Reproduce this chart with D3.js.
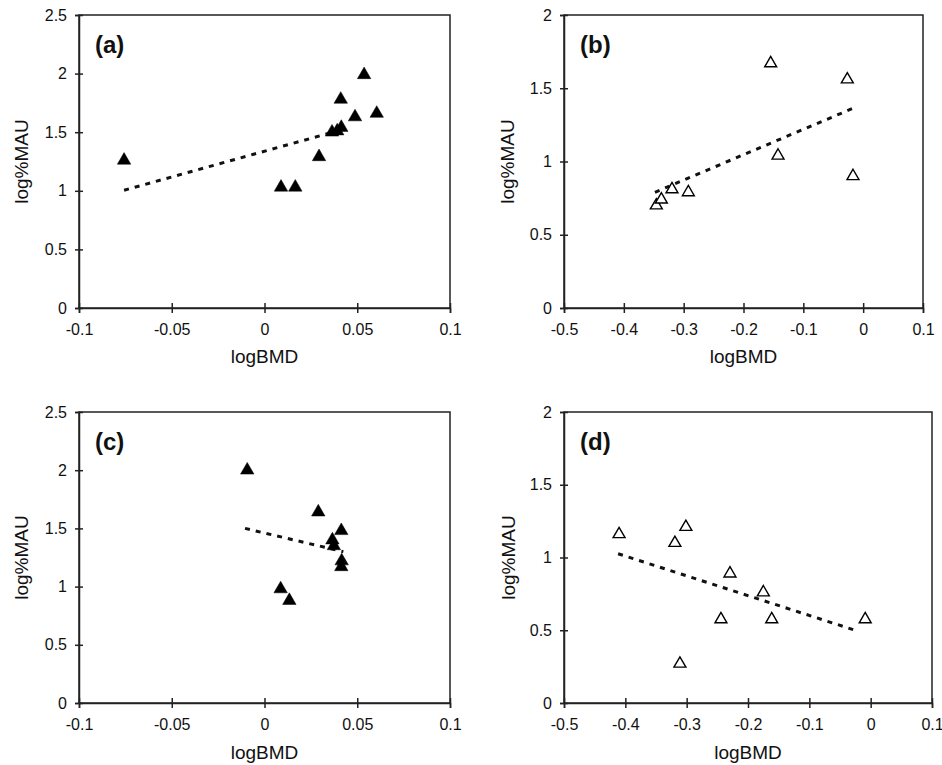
<!DOCTYPE html>
<html>
<head>
<meta charset="utf-8">
<script src="https://cdn.jsdelivr.net/npm/d3@7"></script>
<style>
  html, body { margin: 0; padding: 0; background: #fff; }
  svg { display: block; }
  text { font-family: "Liberation Sans", Arial, sans-serif; fill: #111; }
</style>
</head>
<body>
<svg id="chart" width="942" height="765"></svg>
<script>
// ---- Data ----
const panelLabels = ["(a)", "(b)", "(c)", "(d)"];
const xTitle = "logBMD";
const yTitle = "log%MAU";

const xTicksNarrow = [-0.1, -0.05, 0, 0.05, 0.1];
const xTicksWide = [-0.5, -0.4, -0.3, -0.2, -0.1, 0, 0.1];
const yTicksA = [0, 0.5, 1, 1.5, 2, 2.5];
const yTicksB = [0, 0.5, 1, 1.5, 2];

// Panel (a): filled triangles
const aX = [-0.0757, 0.0089, 0.0166, 0.0294, 0.0364, 0.0392, 0.0414, 0.0411, 0.0488, 0.0537, 0.0605];
const aY = [1.26, 1.03, 1.03, 1.29, 1.50, 1.51, 1.54, 1.78, 1.63, 1.99, 1.66];
const aTrendX = [-0.0757, 0.0392];
const aTrendY = [1.005, 1.51];

// Panel (b): open triangles
const bX = [-0.3457, -0.3373, -0.3195, -0.2922, -0.1546, -0.1423, -0.0265, -0.0170];
const bY = [0.70, 0.74, 0.81, 0.79, 1.67, 1.04, 1.56, 0.90];
const bTrendX = [-0.348, -0.016];
const bTrendY = [0.79, 1.365];

// Panel (c): filled triangles
const cX = [-0.0093, 0.0290, 0.0414, 0.0366, 0.0374, 0.0416, 0.0414, 0.0087, 0.0134];
const cY = [2.00, 1.64, 1.48, 1.40, 1.35, 1.22, 1.17, 0.98, 0.88];
const cTrendX = [-0.0105, 0.0425];
const cTrendY = [1.50, 1.30];

// Panel (d): open triangles
const dX = [-0.4102, -0.3192, -0.3013, -0.3110, -0.2441, -0.2294, -0.1750, -0.1613, -0.0089];
const dY = [1.16, 1.10, 1.21, 0.27, 0.575, 0.89, 0.76, 0.575, 0.575];
const dTrendX = [-0.4118, -0.0253];
const dTrendY = [1.026, 0.50];

// ---- Layout ----
const panels = [
  { label: panelLabels[0], xs: aX, ys: aY, tx: aTrendX, ty: aTrendY, filled: true,
    xDom: [-0.1, 0.1], xTicks: xTicksNarrow, yDom: [0, 2.5], yTicks: yTicksA,
    left: 79, right: 450, top: 15, bottom: 308, yTitleX: 21, xTitleY: 363 },
  { label: panelLabels[1], xs: bX, ys: bY, tx: bTrendX, ty: bTrendY, filled: false,
    xDom: [-0.5, 0.1], xTicks: xTicksWide, yDom: [0, 2], yTicks: yTicksB,
    left: 564, right: 923, top: 15, bottom: 308, yTitleX: 507, xTitleY: 363 },
  { label: panelLabels[2], xs: cX, ys: cY, tx: cTrendX, ty: cTrendY, filled: true,
    xDom: [-0.1, 0.1], xTicks: xTicksNarrow, yDom: [0, 2.5], yTicks: yTicksA,
    left: 79, right: 450, top: 412, bottom: 703, yTitleX: 21, xTitleY: 759 },
  { label: panelLabels[3], xs: dX, ys: dY, tx: dTrendX, ty: dTrendY, filled: false,
    xDom: [-0.5, 0.1], xTicks: xTicksWide, yDom: [0, 2], yTicks: yTicksB,
    left: 564, right: 932, top: 412, bottom: 703, yTitleX: 508, xTitleY: 759 }
];

const svg = d3.select("#chart");
const fmt = d => String(d).replace(/^0\./, "0.").replace(/^-0\./, "-0.");

panels.forEach(p => {
  const x = d3.scaleLinear().domain(p.xDom).range([p.left, p.right]);
  const y = d3.scaleLinear().domain(p.yDom).range([p.bottom, p.top]);
  const g = svg.append("g");

  // frame (top & right)
  g.append("rect")
    .attr("x", p.left).attr("y", p.top)
    .attr("width", p.right - p.left).attr("height", p.bottom - p.top)
    .attr("fill", "none").attr("stroke", "#222").attr("stroke-width", 1.5);

  // x axis
  const xa = g.append("g").attr("transform", `translate(0,${p.bottom})`)
    .call(d3.axisBottom(x).tickValues(p.xTicks).tickSize(5).tickPadding(11).tickFormat(fmt));
  xa.select(".domain").attr("stroke", "#222").attr("stroke-width", 1.5);
  xa.selectAll(".tick line").attr("y1", -5).attr("y2", 5).attr("stroke", "#222").attr("stroke-width", 1.5);
  xa.selectAll(".tick text").attr("font-size", 16).attr("font-family", "Liberation Sans, Arial, sans-serif").attr("fill", "#111");

  // y axis
  const ya = g.append("g").attr("transform", `translate(${p.left},0)`)
    .call(d3.axisLeft(y).tickValues(p.yTicks).tickSize(4).tickPadding(8).tickFormat(fmt));
  ya.select(".domain").attr("stroke", "#222").attr("stroke-width", 1.5);
  ya.selectAll(".tick line").attr("x1", 4).attr("x2", -4).attr("stroke", "#222").attr("stroke-width", 1.5);
  ya.selectAll(".tick text").attr("font-size", 16).attr("font-family", "Liberation Sans, Arial, sans-serif").attr("fill", "#111");

  // titles
  g.append("text")
    .attr("x", (p.left + p.right) / 2).attr("y", p.xTitleY)
    .attr("text-anchor", "middle").attr("font-size", 19)
    .text(xTitle);
  g.append("text")
    .attr("transform", `translate(${p.yTitleX + 7},${(p.top + p.bottom) / 2}) rotate(-90)`)
    .attr("text-anchor", "middle").attr("font-size", 19)
    .text(yTitle);

  // panel label
  g.append("text")
    .attr("x", p.left + 16).attr("y", p.top + 38)
    .attr("font-size", 24).attr("font-weight", "bold")
    .text(p.label);

  // trend line
  const line = d3.line().x(d => x(d[0])).y(d => y(d[1]));
  g.append("path")
    .datum(d3.zip(p.tx, p.ty))
    .attr("d", line)
    .attr("fill", "none").attr("stroke", "#111")
    .attr("stroke-width", 3).attr("stroke-dasharray", "5,6");

  // points
  const sym = d3.symbol().type(d3.symbolTriangle).size(p.filled ? 78 : 62);
  g.selectAll("path.pt")
    .data(d3.zip(p.xs, p.ys))
    .join("path")
    .attr("class", "pt")
    .attr("transform", d => `translate(${x(d[0])},${y(d[1])})`)
    .attr("d", sym)
    .attr("fill", p.filled ? "#000" : "#fff")
    .attr("stroke", "#000")
    .attr("stroke-width", p.filled ? 0.5 : 1.4);
});
</script>
</body>
</html>
